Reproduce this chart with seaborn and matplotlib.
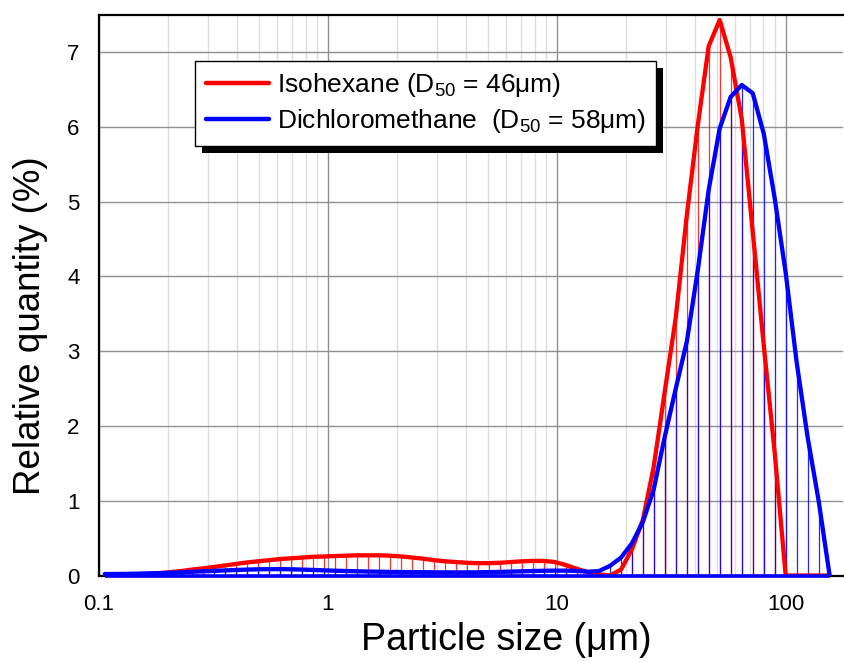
import matplotlib
matplotlib.use("Agg")
import matplotlib.pyplot as plt
import matplotlib.patheffects as pe
import seaborn as sns
from matplotlib.lines import Line2D
from matplotlib.ticker import LogLocator, NullFormatter, MultipleLocator

# size classes (um)
sizes = [0.106, 0.118, 0.132, 0.147, 0.164, 0.183, 0.205, 0.229, 0.256, 0.285,
         0.319, 0.356, 0.398, 0.444, 0.496, 0.554, 0.619, 0.691, 0.772, 0.862,
         0.963, 1.076, 1.20, 1.34, 1.50, 1.68, 1.87, 2.09, 2.34, 2.61,
         2.91, 3.25, 3.63, 4.06, 4.53, 5.06, 5.65, 6.31, 7.05, 7.87,
         8.79, 9.81, 10.96, 12.2, 13.7, 15.3, 17.1, 19.1, 21.3, 23.8,
         26.5, 29.6, 33.1, 37.0, 41.3, 46.1, 51.5, 57.5, 64.3, 71.8,
         80.2, 89.5, 100.0, 111.7, 124.7, 139.3, 155.6]

isohexane = [0.0, 0.0, 0.005, 0.01, 0.02, 0.03, 0.045, 0.06, 0.08, 0.095,
             0.115, 0.135, 0.155, 0.175, 0.19, 0.205, 0.22, 0.23, 0.24, 0.25,
             0.255, 0.26, 0.265, 0.27, 0.27, 0.27, 0.265, 0.255, 0.24, 0.225,
             0.205, 0.19, 0.18, 0.17, 0.165, 0.165, 0.17, 0.18, 0.19, 0.195,
             0.195, 0.18, 0.14, 0.09, 0.045, 0.015, 0.0, 0.08, 0.35, 0.75,
             1.45, 2.45, 3.45, 4.82, 6.02, 7.08, 7.43, 6.93, 6.1, 4.6,
             3.08, 1.65, 0.0, 0.0, 0.0, 0.0, 0.0]

dichloromethane = [0.02, 0.02, 0.022, 0.025, 0.028, 0.032, 0.037, 0.043, 0.05, 0.056,
                   0.062, 0.068, 0.074, 0.079, 0.083, 0.085, 0.085, 0.083, 0.079, 0.074,
                   0.069, 0.064, 0.06, 0.056, 0.053, 0.05, 0.048, 0.046, 0.045, 0.044,
                   0.043, 0.042, 0.042, 0.042, 0.043, 0.045, 0.048, 0.052, 0.056, 0.06,
                   0.063, 0.065, 0.065, 0.062, 0.05, 0.06, 0.13, 0.24, 0.43, 0.72,
                   1.15, 1.85, 2.5, 3.13, 4.08, 5.16, 5.98, 6.40, 6.56, 6.45,
                   5.91, 5.05, 4.05, 2.85, 1.85, 1.0, 0.0]

labels = [r"Isohexane ($D_{50}$ = 46μm)", r"Dichloromethane  ($D_{50}$ = 58μm)"]
xticks = [0.1, 1, 10, 100]
xtick_labels = ["0.1", "1", "10", "100"]

sns.set_style("white")
plt.rcParams['font.family'] = ['Liberation Sans', 'DejaVu Sans']
plt.rcParams['mathtext.default'] = 'regular'
plt.rcParams['text.color'] = 'black'
plt.rcParams['axes.labelcolor'] = 'black'

fig = plt.figure(figsize=(8.44, 6.62), dpi=100)
ax = fig.add_axes([99 / 844, 86.5 / 662, 744 / 844, 560.8 / 662])

# drop lines
ax.vlines(sizes, 0, isohexane, colors='red', lw=0.9, alpha=0.8, zorder=2)
ax.vlines(sizes, 0, dichloromethane, colors='blue', lw=0.9, alpha=0.85, zorder=3)

sns.lineplot(x=sizes, y=isohexane, color='red', linewidth=3.1, ax=ax, legend=False, zorder=4)
sns.lineplot(x=sizes, y=dichloromethane, color='blue', linewidth=3.1, ax=ax, legend=False, zorder=5)
ax.hlines(0, sizes[0], sizes[-1], colors='blue', lw=2.6, zorder=6, clip_on=False)

ax.set_xscale('log')
ax.set_xlim(0.1, 178)
ax.set_ylim(0, 7.5)
ax.set_xticks(xticks, labels=xtick_labels)
ax.xaxis.set_minor_locator(LogLocator(base=10, subs=range(2, 10)))
ax.xaxis.set_minor_formatter(NullFormatter())
ax.yaxis.set_major_locator(MultipleLocator(1))
ax.yaxis.set_minor_locator(MultipleLocator(0.5))

ax.set_axisbelow(True)
ax.grid(which='major', axis='both', color='#8f8f8f', lw=1)
ax.grid(which='minor', axis='x', color='#dedede', lw=1)

ax.tick_params(which='major', direction='out', length=8, width=1.5, labelsize=16,
               colors='black', pad=5)
ax.tick_params(which='minor', direction='out', length=4.5, width=1.2, colors='black')
ax.tick_params(axis='y', which='major', pad=6)

for side in ['left', 'bottom', 'top']:
    ax.spines[side].set_color('black')
    ax.spines[side].set_linewidth(1.6)
ax.spines['right'].set_visible(False)

ax.set_xlabel("Particle size (μm)", fontsize=27, color='black')
ax.set_ylabel("Relative quantity (%)", fontsize=26.5, color='black')
ax.xaxis.set_label_coords(0.548, -0.083)
ax.yaxis.set_label_coords(-0.068, 0.445)

handles = [Line2D([0], [0], color='red', lw=3.2),
           Line2D([0], [0], color='blue', lw=3.2)]
leg = ax.legend(handles, labels, loc='upper left', bbox_to_anchor=(0.129, 0.918),
                borderaxespad=0, fontsize=19, frameon=True, fancybox=False,
                handlelength=2.4, handletextpad=0.3, borderpad=0.4,
                labelspacing=0.3)
frame = leg.get_frame()
frame.set_edgecolor('black')
frame.set_linewidth(1)
frame.set_alpha(1)
frame.set_path_effects([pe.SimplePatchShadow(offset=(5, -5), shadow_rgbFace='black', alpha=1),
                        pe.Normal()])
leg.set_zorder(10)

fig.savefig("out.png", dpi=100)
